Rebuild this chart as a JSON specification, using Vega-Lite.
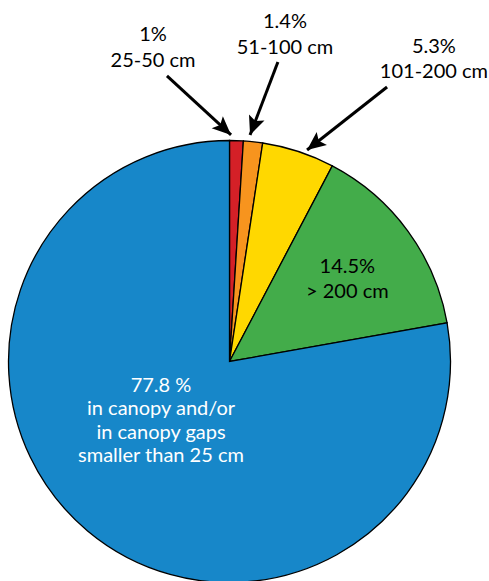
{
  "$schema": "https://vega.github.io/schema/vega-lite/v6.json",
  "width": 459,
  "height": 723,
  "autosize": {"type": "none"},
  "padding": {"left": 0, "top": 0, "right": 30, "bottom": 0},
  "background": "white",
  "config": {"view": {"stroke": null}, "text": {"font": "Lato", "fontSize": 20, "lineBreak": "\n"}},
  "datasets": {
    "slices": [
      {"rank": 1, "category": "25-50 cm", "value": 1.0, "inner": ""},
      {"rank": 2, "category": "51-100 cm", "value": 1.4, "inner": ""},
      {"rank": 3, "category": "101-200 cm", "value": 5.3, "inner": ""},
      {"rank": 4, "category": "> 200 cm", "value": 14.5, "inner": "14.5%\n> 200 cm"},
      {"rank": 5, "category": "< 25 cm", "value": 77.8, "inner": "77.8 %\nin canopy and/or\nin canopy gaps\nsmaller than 25 cm"}
    ],
    "callouts": [
      {"category": "25-50 cm", "label": "1%\n25-50 cm", "labelX": -34.6, "labelY": 145.0, "fromX": -28.3, "fromY": 129.2, "toX": 0.7, "toY": 102.5},
      {"category": "51-100 cm", "label": "1.4%\n51-100 cm", "labelX": 25.1, "labelY": 150.9, "fromX": 21.9, "fromY": 135.5, "toX": 9.3, "toY": 102.5},
      {"category": "101-200 cm", "label": "5.3%\n101-200 cm", "labelX": 92.5, "labelY": 139.6, "fromX": 71.3, "fromY": 124.2, "toX": 35.1, "toY": 95.7}
    ]
  },
  "layer": [
    {
      "data": {"name": "slices"},
      "mark": {"type": "arc", "outerRadius": 221, "stroke": "black", "strokeWidth": 1.3},
      "encoding": {
        "theta": {"field": "value", "type": "quantitative", "stack": true},
        "order": {"field": "rank", "type": "quantitative"},
        "color": {
          "field": "category",
          "type": "nominal",
          "scale": {
            "domain": ["25-50 cm", "51-100 cm", "101-200 cm", "> 200 cm", "< 25 cm"],
            "range": ["#D42027", "#F7941E", "#FFD800", "#43AC4A", "#1787C9"]
          },
          "legend": null
        }
      }
    },
    {
      "data": {"name": "slices"},
      "mark": {"type": "text", "radius": 146, "dy": -2, "baseline": "alphabetic", "align": "center", "lineHeight": 25, "color": "black"},
      "encoding": {
        "theta": {"field": "value", "type": "quantitative", "stack": true},
        "order": {"field": "rank", "type": "quantitative"},
        "text": {"condition": {"test": "datum.rank == 4", "field": "inner", "type": "nominal"}, "value": ""}
      }
    },
    {
      "data": {"name": "slices"},
      "mark": {"type": "text", "radius": 90, "dx": -10.7, "dy": -38.4, "baseline": "alphabetic", "align": "center", "lineHeight": 23.3, "color": "white"},
      "encoding": {
        "theta": {"field": "value", "type": "quantitative", "stack": true},
        "order": {"field": "rank", "type": "quantitative"},
        "text": {"condition": {"test": "datum.rank == 5", "field": "inner", "type": "nominal"}, "value": ""}
      }
    },
    {
      "data": {"name": "callouts"},
      "mark": {"type": "rule", "strokeWidth": 3, "color": "black"},
      "encoding": {
        "x": {"field": "fromX", "type": "quantitative", "scale": {"domain": [-103.85, 103.85], "nice": false, "zero": false}, "axis": null},
        "y": {"field": "fromY", "type": "quantitative", "scale": {"domain": [-163.57, 163.57], "nice": false, "zero": false}, "axis": null},
        "x2": {"field": "toX"},
        "y2": {"field": "toY"}
      }
    },
    {
      "data": {"name": "callouts"},
      "transform": [
        {"calculate": "atan2(datum.toX - datum.fromX, datum.toY - datum.fromY) * 180 / PI", "as": "headAngle"}
      ],
      "mark": {"type": "point", "shape": "M0,0 L1.9,4.3 L0,3.4 L-1.9,4.3 Z", "size": 76, "filled": true, "color": "black", "opacity": 1, "strokeWidth": 0},
      "encoding": {
        "x": {"field": "toX", "type": "quantitative", "scale": {"domain": [-103.85, 103.85], "nice": false, "zero": false}, "axis": null},
        "y": {"field": "toY", "type": "quantitative", "scale": {"domain": [-163.57, 163.57], "nice": false, "zero": false}, "axis": null},
        "angle": {"field": "headAngle", "type": "quantitative", "scale": null}
      }
    },
    {
      "data": {"name": "callouts"},
      "mark": {"type": "text", "baseline": "alphabetic", "align": "center", "lineHeight": 25.5, "color": "black"},
      "encoding": {
        "x": {"field": "labelX", "type": "quantitative", "scale": {"domain": [-103.85, 103.85], "nice": false, "zero": false}, "axis": null},
        "y": {"field": "labelY", "type": "quantitative", "scale": {"domain": [-163.57, 163.57], "nice": false, "zero": false}, "axis": null},
        "text": {"field": "label", "type": "nominal"}
      }
    }
  ]
}
